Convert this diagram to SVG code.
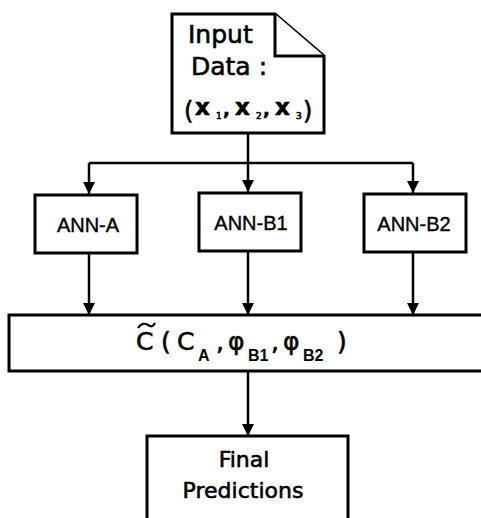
<svg xmlns="http://www.w3.org/2000/svg" width="481" height="518" viewBox="0 0 481 518">
<style>
.box{fill:#fff;stroke:#000;stroke-width:3}
.ln{fill:none;stroke:#000;stroke-width:2.5}
.dv{font-family:"DejaVu Sans",Verdana,sans-serif;fill:#000;stroke:#000;stroke-width:0.6}
.ar{font-family:"Liberation Sans",Arial,sans-serif;font-size:20px;fill:#000;stroke:#000;stroke-width:0.4;text-anchor:middle}
.sb{font-family:"Liberation Sans",Arial,sans-serif;font-weight:bold;fill:#000}
</style>
<defs>
<marker id="ah" markerWidth="12" markerHeight="12" viewBox="0 0 12 12" refX="12" refY="6" orient="auto" markerUnits="userSpaceOnUse">
<path d="M0,0 L12,6 L0,12 Z" fill="#000"/>
</marker>
</defs>
<rect width="481" height="518" fill="#fff"/>
<g id="connectors">
<path class="ln" d="M248,133 V163"/>
<path class="ln" d="M89,163 H413"/>
<path class="ln" d="M89,163 V194" marker-end="url(#ah)"/>
<path class="ln" d="M248,163 V192" marker-end="url(#ah)"/>
<path class="ln" d="M413,163 V193" marker-end="url(#ah)"/>
<path class="ln" d="M89,253 V315" marker-end="url(#ah)"/>
<path class="ln" d="M248,251 V315" marker-end="url(#ah)"/>
<path class="ln" d="M413,252 V315" marker-end="url(#ah)"/>
<path class="ln" d="M248,371 V436" marker-end="url(#ah)"/>
</g>
<g id="input">
<path class="box" d="M172,14 H275 L324,56 V133 H172 Z"/>
<path class="box" d="M275,14 V56 H324"/>
<text class="dv" x="188" y="43" font-size="25">Input</text>
<text class="dv" x="191" y="75" font-size="25">Data :</text>
<text class="dv" y="119" font-size="24"><tspan x="184">(</tspan></text>
<text class="dv" y="119" font-size="24"><tspan x="303">)</tspan></text>
<text class="dv" y="115" font-size="23" font-weight="bold" stroke-width="0"><tspan x="195">x</tspan><tspan x="235">x</tspan><tspan x="275">x</tspan></text>
<text class="dv" y="115" font-size="18" font-weight="bold" stroke-width="0"><tspan x="223">,</tspan><tspan x="263">,</tspan></text>
<text class="dv" y="119" font-size="9" stroke-width="0.2"><tspan x="216">1</tspan><tspan x="256">2</tspan><tspan x="296">3</tspan></text>
</g>
<g id="ann-a">
<rect class="box" x="35" y="195" width="102" height="58"/>
<text class="ar" x="88" y="232">ANN-A</text>
</g>
<g id="ann-b1">
<rect class="box" x="199" y="193" width="102" height="58"/>
<text class="ar" x="251" y="230">ANN-B1</text>
</g>
<g id="ann-b2">
<rect class="box" x="364" y="194" width="102" height="58"/>
<text class="ar" x="414" y="231">ANN-B2</text>
</g>
<g id="combine">
<rect class="box" x="9" y="315" width="480" height="56"/>
<text class="dv" y="350" font-size="25" stroke-width="0.9"><tspan x="136">C</tspan><tspan x="161">(</tspan><tspan x="177">C</tspan><tspan x="216">,</tspan><tspan x="228">φ</tspan><tspan x="271">,</tspan><tspan x="283">φ</tspan><tspan x="337">)</tspan></text>
<path d="M138,328 C141,323 145,323 148,325 C151,327 153,327 155,323" fill="none" stroke="#000" stroke-width="2.2"/>
<text class="sb" y="361" font-size="16"><tspan x="198">A</tspan><tspan x="248">B1</tspan><tspan x="303">B2</tspan></text>
</g>
<g id="final">
<rect class="box" x="147" y="436" width="201" height="90"/>
<text class="dv" x="244" y="467" font-size="22" text-anchor="middle">Final</text>
<text class="dv" x="243" y="498" font-size="22" text-anchor="middle">Predictions</text>
</g>
</svg>
